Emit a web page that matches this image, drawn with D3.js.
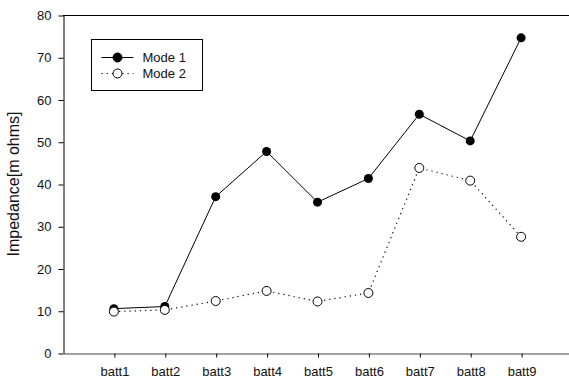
<!DOCTYPE html>
<html>
<head>
<meta charset="utf-8">
<script src="https://cdn.jsdelivr.net/npm/d3@7"></script>
<style>
  body { margin: 0; background: #fff; }
  text { font-family: "Liberation Sans", Arial, sans-serif; }
</style>
</head>
<body>
<svg id="chart" width="569" height="381"></svg>
<script>
const categories = ['batt1', 'batt2', 'batt3', 'batt4', 'batt5', 'batt6', 'batt7', 'batt8', 'batt9']
const mode1 = [10.5, 11.0, 37.0, 47.7, 35.7, 41.3, 56.5, 50.2, 74.6]
const mode2 = [9.8, 10.2, 12.3, 14.7, 12.2, 14.2, 43.8, 40.8, 27.5]
const yTicks = [0, 10, 20, 30, 40, 50, 60, 70, 80]
const seriesNames = ['Mode 1', 'Mode 2']

const plotLeft = 63
const plotRight = 572
const plotTop = 15
const plotBottom = 353

const svg = d3.select('#chart')

const x = d3.scaleLinear().domain([0, categories.length + 1]).range([plotLeft, plotRight])
const y = d3.scaleLinear().domain([0, 80]).range([plotBottom, plotTop])

// top frame line
svg.append('line')
  .attr('x1', plotLeft).attr('x2', plotRight)
  .attr('y1', plotTop + 0.5).attr('y2', plotTop + 0.5)
  .attr('stroke', '#000')

// y axis
const yAxis = svg.append('g')
  .attr('transform', `translate(${plotLeft + 0.5},0.5)`)
  .call(d3.axisLeft(y).tickValues(yTicks).tickSize(5).tickPadding(7).tickSizeOuter(0))
yAxis.select('.domain').attr('stroke', '#000')
yAxis.selectAll('text').attr('font-size', 13).attr('fill', '#111')

// x axis
const xAxis = svg.append('g')
  .attr('transform', `translate(0.5,${plotBottom + 0.5})`)
  .call(d3.axisBottom(x)
    .tickValues(d3.range(1, categories.length + 1))
    .tickFormat((d) => categories[d - 1])
    .tickSize(4).tickPadding(9).tickSizeOuter(0))
xAxis.select('.domain').attr('stroke', '#444')
xAxis.selectAll('text').attr('font-size', 13).attr('fill', '#111')

// y label
svg.append('text')
  .attr('transform', `translate(19,${(plotTop + plotBottom) / 2}) rotate(-90)`)
  .attr('text-anchor', 'middle')
  .attr('font-size', 16)
  .attr('fill', '#111')
  .text('Impedance[m ohms]')

const line = d3.line()
  .x((d, i) => x(i + 1))
  .y((d) => y(d))

svg.append('path')
  .datum(mode2)
  .attr('d', line)
  .attr('fill', 'none')
  .attr('stroke', '#000')
  .attr('stroke-width', 1.2)
  .attr('stroke-dasharray', '1.2,4')

svg.append('path')
  .datum(mode1)
  .attr('d', line)
  .attr('fill', 'none')
  .attr('stroke', '#000')
  .attr('stroke-width', 1)

svg.selectAll('.m1')
  .data(mode1)
  .enter().append('circle')
  .attr('class', 'm1')
  .attr('cx', (d, i) => x(i + 1))
  .attr('cy', (d) => y(d))
  .attr('r', 4.5)
  .attr('fill', '#000')

svg.selectAll('.m2')
  .data(mode2)
  .enter().append('circle')
  .attr('class', 'm2')
  .attr('cx', (d, i) => x(i + 1))
  .attr('cy', (d) => y(d))
  .attr('r', 4.5)
  .attr('fill', '#fff')
  .attr('stroke', '#000')
  .attr('stroke-width', 1)

// legend
const legend = svg.append('g').attr('transform', 'translate(91.5,39.5)')
legend.append('rect')
  .attr('width', 111).attr('height', 51)
  .attr('fill', '#fff').attr('stroke', '#000')

seriesNames.forEach((name, i) => {
  const ly = 18 + i * 16
  legend.append('line')
    .attr('x1', 10).attr('x2', 42)
    .attr('y1', ly).attr('y2', ly)
    .attr('stroke', '#000')
    .attr('stroke-width', i === 0 ? 1 : 1.2)
    .attr('stroke-dasharray', i === 0 ? null : '1.2,4')
  legend.append('circle')
    .attr('cx', 26).attr('cy', ly).attr('r', 4.5)
    .attr('fill', i === 0 ? '#000' : '#fff')
    .attr('stroke', '#000')
  legend.append('text')
    .attr('x', 51).attr('y', ly)
    .attr('dy', '.35em')
    .attr('font-size', 13)
    .attr('fill', '#111')
    .text(name)
})
</script>
</body>
</html>
